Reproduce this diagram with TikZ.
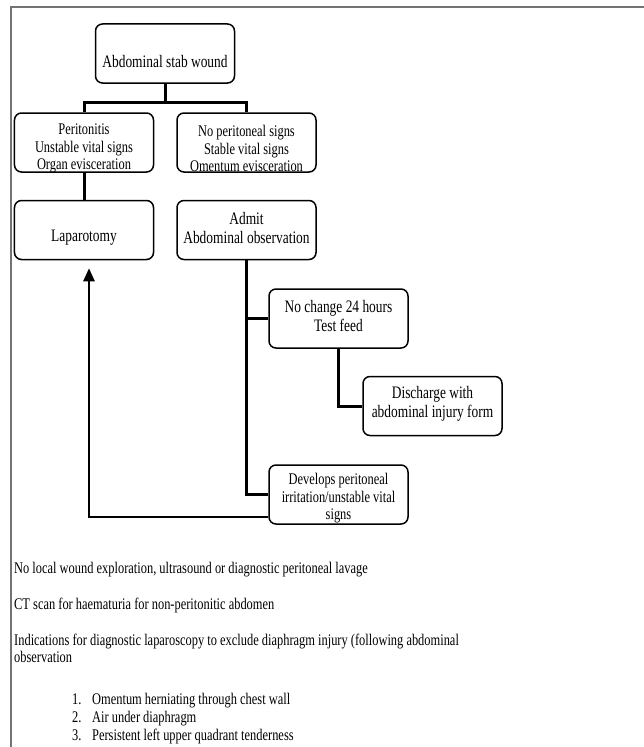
\documentclass[tikz,border=0pt]{standalone}
\usepackage{fontspec}
\setmainfont[FakeStretch=0.765]{Liberation Serif}
\usetikzlibrary{arrows.meta}
\begin{document}
\begin{tikzpicture}[x=1bp,y=-1bp,
 box/.style={draw, line width=1.5bp, rounded corners=7bp, minimum width=139bp, minimum height=59bp, inner sep=0pt},
 big/.style={align=center, font=\fontsize{17.6}{19.5}\selectfont, inner sep=0pt},
 small/.style={align=center, font=\fontsize{16.3}{17.5}\selectfont, inner sep=0pt},
 conn/.style={line width=3bp},
 arr/.style={line width=2.5bp, -{Triangle[length=13bp,width=11bp]}},
 frameline/.style={draw=black!55, line width=1.3bp},
 note/.style={anchor=base west, inner sep=0pt, font=\fontsize{16.3}{17.5}\selectfont}]
\useasboundingbox (0,0) rectangle (644,747);
\draw[frameline] (11,747) -- (11,7) -- (644,7);

% boxes
\node[box] (top) at (165,53.5) {};
\node[box] (per) at (84,142.5) {};
\node[box] (nop) at (246.5,142.5) {};
\node[box] (lap) at (84,230) {};
\node[box] (adm) at (246.5,230) {};
\node[box] (noc) at (338.5,318.5) {};
\node[box] (dis) at (432.5,406) {};
\node[box] (dev) at (338.5,494.5) {};

% texts
\node[big] (toptxt) at (165,61.5) {Abdominal stab wound};
\node[small] (pertxt) at (84,148.5) {Peritonitis\\Unstable vital signs\\Organ evisceration};
\node[small] (noptxt) at (246.5,148.5) {No peritoneal signs\\Stable vital signs\\Omentum evisceration};
\node[big] (laptxt) at (84,237.5) {Laparotomy};
\node[big] (admtxt) at (246.5,228) {Admit\\Abdominal observation};
\node[big] (noctxt) at (338.5,316) {No change 24 hours\\Test feed};
\node[big] (distxt) at (432.5,404) {Discharge with\\abdominal injury form};
\node[small] (devtxt) at (338.5,498.5) {Develops peritoneal\\irritation/unstable vital\\signs};

% connectors
\coordinate (split) at (165,102);
\draw[conn] (top.south) -- (split);
\draw[conn] (per.north) |- (split) -| (nop.north);
\draw[conn] (per.south) -- (lap.north);
\draw[conn] (adm.south) |- (dev.west);
\draw[conn] (adm.south |- noc.west) -- (noc.west);
\draw[conn] (noc.south) |- (dis.west);
\draw[arr] ([yshift=8bp]dev.south west) -| ([xshift=5bp,yshift=-8bp]lap.south);

% notes
\node[note] (n1) at (14,573) {No local wound exploration, ultrasound or diagnostic peritoneal lavage};
\node[note] (n2) at (14,609.5) {CT scan for haematuria for non-peritonitic abdomen};
\node[note] (n3) at (14,645) {Indications for diagnostic laparoscopy to exclude diaphragm injury (following abdominal};
\node[note] (n4) at (14,662.5) {observation};
\node[note] (l1) at (72,704) {\makebox[20bp][l]{1.}Omentum herniating through chest wall};
\node[note] (l2) at (72,722) {\makebox[20bp][l]{2.}Air under diaphragm};
\node[note] (l3) at (72,740) {\makebox[20bp][l]{3.}Persistent left upper quadrant tenderness};
\end{tikzpicture}
\end{document}
